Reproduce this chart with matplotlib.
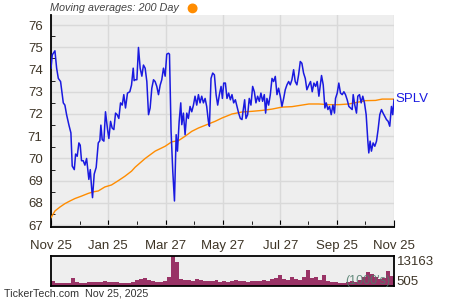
import matplotlib
matplotlib.use("Agg")
import matplotlib.pyplot as plt
from matplotlib.patches import Ellipse
import numpy as np

# SPLV closing prices, days since Nov 25, 2024
price_days = [0, 1.4, 4.2, 6.0, 7.8, 10.2, 13.1, 14.8, 16.6, 19.1, 21.2, 22.6, 24.8, 26.2, 27.9,
              29.7, 31.1, 32.5, 34.3, 36.1, 37.9, 38.9, 40.3, 41.8, 43.2, 44.2, 46.0, 48.1, 50.3,
              52.0, 53.1, 54.5, 56.3, 58.0, 60.2, 61.6, 63.4, 65.1, 66.9, 68.7, 70.4, 72.2, 74.0,
              75.8, 77.5, 79.3, 81.4, 83.9, 85.7, 87.5, 88.5,
              89.6, 91.4, 93.1, 94.9, 96.7, 98.4, 100.2, 102.0, 103.8, 105.5, 107.3, 109.1, 110.8,
              112.6, 114.4, 116.2, 117.9, 119.7, 121.5, 123.2, 125.0, 126.1, 127.8, 129.6, 131.4,
              133.2, 134.6, 136.4, 138.1, 139.2, 140.9, 142.7, 144.5, 146.2, 148.0, 149.8, 151.6,
              153.3, 155.1, 156.9, 158.6, 160.4, 162.2, 164.0, 165.7, 167.5, 168.6, 170.3, 172.1,
              173.9, 175.7, 177.4, 179.2, 181.0, 182.4,
              183.8, 185.6, 187.3, 189.1, 190.9, 192.6, 194.4, 196.2, 198.0, 199.7, 201.5, 203.3,
              204.3, 206.1, 207.5, 209.3, 211.0, 212.8, 214.6, 216.4, 218.1, 219.9, 221.7, 223.4,
              225.2, 227.0, 228.4, 229.8, 231.6, 233.4, 235.2, 236.9, 238.7, 240.5, 242.2, 244.0,
              245.8, 247.6, 249.3, 251.1, 252.9, 254.6, 256.4, 258.2, 259.9, 261.7, 263.5, 265.3,
              267.0, 268.8, 270.6, 272.3,
              274.5, 276.2, 278.0, 279.8, 281.6, 283.3, 285.1, 286.9, 287.9, 289.7, 291.5, 292.9,
              294.7, 296.4, 298.2, 300.0, 301.7, 302.8, 304.6, 306.3, 308.1, 309.9, 311.7, 313.4,
              315.2, 317.0, 318.7, 320.5, 321.6, 323.3, 325.1, 326.5, 328.3, 330.1, 331.8, 333.6,
              335.4, 337.2, 338.2, 339.6, 341.0, 342.8, 344.6, 346.4, 348.1, 349.9, 351.7, 353.4,
              355.2, 357.0, 358.8, 360.5, 362.3, 363.7, 365.0]
prices = [74.06, 74.66, 74.84, 74.06, 73.6, 73.46, 72.5, 72.4, 71.97, 71.5, 71.15, 69.66, 69.5, 70.2, 70.1,
          70.7, 70.6, 69.9, 69.9, 69.7, 70.0, 69.6, 69.06, 69.5, 68.7, 68.24, 69.3, 69.6, 70.7,
          70.8, 71.5, 70.85, 70.78, 72.1, 71.3, 70.9, 71.67, 71.37, 71.3, 72.04, 71.97, 71.8, 72.5,
          72.4, 72.87, 72.27, 72.94, 73.0, 73.3, 74.06, 73.5,
          73.54, 73.54, 74.99, 74.06, 73.7, 74.2, 74.06, 73.46, 71.97, 72.27, 73.16, 73.54, 73.46,
          73.24, 72.87, 73.3, 73.54, 74.06, 73.7, 74.69, 74.73, 74.69, 71.22, 69.43, 68.09,
          71.07, 70.33, 71.67, 72.5, 71.52, 72.04, 71.07, 72.04, 71.8, 72.34, 72.1, 72.4,
          72.8, 72.4, 72.87, 72.5, 72.8, 72.5, 72.7, 72.34, 71.67, 71.45, 73.6, 73.84,
          73.76, 72.87, 72.4, 72.87, 73.24, 72.7,
          73.39, 73.39, 72.7, 72.94, 72.64, 72.87, 72.5, 72.64, 72.34, 72.04, 71.8, 71.75,
          72.1, 72.64, 71.8, 71.97, 72.7, 72.4, 73.24, 73.0, 72.5, 72.8, 72.57, 72.94,
          72.57, 72.87, 72.04, 72.7, 72.4, 72.87, 73.6, 73.46, 73.69, 72.87, 73.16, 72.8,
          72.34, 72.7, 73.09, 73.31, 73.46, 73.31, 73.54, 73.99, 73.46, 73.31, 73.76, 74.36,
          74.28, 73.84, 73.6, 73.09,
          73.31, 73.46, 73.0, 73.39, 73.24, 73.46, 72.8, 73.39, 73.73, 73.31, 72.27, 72.5,
          72.2, 72.34, 71.97, 72.4, 72.04, 72.7, 72.94, 73.39, 72.94, 72.87, 73.0, 72.87,
          72.64, 72.34, 72.27, 72.2, 72.87, 72.4, 72.04, 72.8, 72.87, 72.5, 72.8, 72.5,
          71.97, 70.78, 70.25, 70.78, 70.33, 70.7, 70.55, 70.78, 71.3, 71.97, 72.2, 72.04,
          71.9, 71.75, 71.67, 71.45, 72.34, 71.97, 72.64]

# 200 day moving average
ma_days = [0, 4.2, 9.6, 14.8, 20.2, 25.5, 32.5, 39.6, 44.9, 50.3, 57.3, 64.4, 71.5, 78.6, 85.7,
           89.6, 100.2, 110.8, 121.5, 128.5, 135.6, 142.7, 149.8, 156.9, 167.5, 174.6,
           182.0, 192.6, 203.3, 213.9, 224.5, 235.2, 245.8, 256.4, 267.0,
           274.5, 285.1, 295.7, 306.3, 317.0, 327.6, 334.7, 345.3, 352.4, 365.0]
ma200 = [67.34, 67.64, 67.82, 67.97, 68.09, 68.2, 68.31, 68.43, 68.5, 68.54, 68.72, 68.81, 69.0, 69.2, 69.43,
         69.61, 70.0, 70.33, 70.55, 70.75, 70.8, 71.0, 71.22, 71.37, 71.55, 71.67,
         71.82, 72.0, 72.09, 72.12, 72.16, 72.22, 72.31, 72.33, 72.4,
         72.45, 72.45, 72.42, 72.42, 72.45, 72.54, 72.6, 72.61, 72.67, 72.67]

# volume in thousands, consecutive periods across the year
volume = [2250, 1520, 1380, 1520, 1670, 3700, 1960, 1520, 1520, 1820, 1960, 2100, 1820, 2400, 1820,
          1820, 2100, 1670, 1670, 1520, 1960, 2830, 3410, 3700, 2690, 2250, 2100, 1960, 2540,
          4140, 13163, 10700, 3410, 2690, 2690, 2400, 3120, 2690, 2250, 2540, 2250, 2690, 2100,
          2250, 1960, 2250, 2690, 2250, 2540, 1960, 2250, 2250, 2540, 2690, 2400, 3120, 3700,
          4870, 3120, 2690, 4140, 3410, 2690, 4140, 7050, 3700, 4140, 2690, 4870, 2250, 1960,
          1960, 1670, 1670, 1960, 2250, 1960, 2690, 4140, 6300, 5600, 4140, 3410, 3700, 6600, 4580]

tick_days = [0, 61, 122, 183, 244, 304, 365]
tick_labels = ["Nov 25", "Jan 25", "Mar 27", "May 27", "Jul 27", "Sep 25", "Nov 25"]

plt.rcParams['font.family'] = ['Liberation Sans', 'DejaVu Sans']
txt = "#3d3426"
bg = "#eeeeee"

fig = plt.figure(figsize=(4.5, 3), dpi=100)
ax = fig.add_axes([0.1133, 0.2433, 0.7622, 0.7067])
ax.set_facecolor(bg)
ax.plot(ma_days, ma200, color="#ff8c00", lw=1.0, zorder=3)
ax.plot(price_days, prices, color="#1a1ae0", lw=1.1, zorder=4)
ax.set_xlim(0, 365)
ax.set_ylim(66.92, 76.45)
ax.set_yticks(np.arange(67, 77))
ax.set_yticks(np.arange(67.5, 76.5, 1), minor=True)
ax.set_xticks(tick_days)
ax.set_xticklabels(tick_labels)
ax.set_xticks([(a + b) / 2 for a, b in zip(tick_days[:-1], tick_days[1:])], minor=True)
ax.grid(True, which="major", color="#d9d9d9", lw=1.0)
ax.set_axisbelow(True)
for s in ["top", "right"]:
    ax.spines[s].set_visible(False)
for s in ["left", "bottom"]:
    ax.spines[s].set_linewidth(1.3)
ax.tick_params(axis="both", which="both", direction="in", colors="black", labelcolor=txt, labelsize=9.5)
ax.tick_params(axis="x", which="major", length=5, pad=9)
ax.tick_params(axis="x", which="minor", length=4)
ax.tick_params(axis="y", which="major", length=0, pad=6)
ax.tick_params(axis="y", which="minor", length=3)

ax.text(ma_days[-1] + 2, ma200[-1], "SPLV", color="#1a1ae0", fontsize=9.5, va="center", ha="left",
        clip_on=False)
fig.text(0.112, 0.972, "Moving averages: 200 Day", fontsize=7.8, style="italic", color="#444444",
         va="center", ha="left")
fig.add_artist(Ellipse((0.428, 0.972), 0.019, 0.028, transform=fig.transFigure, color="#ff8c00"))

# volume panel
axv = fig.add_axes([0.1133, 0.0483, 0.7622, 0.0984])
axv.set_facecolor(bg)
edges = np.linspace(0, 365, len(volume) + 1)
axv.bar(edges[:-1], volume, width=np.diff(edges), align="edge", color="#993366", lw=0)
axv.set_xlim(0, 365)
axv.set_ylim(505, 13163)
axv.set_xticks([])
axv.set_yticks([])
for s in axv.spines.values():
    s.set_linewidth(1.3)
axv.text(1.008, 0.8, f"{max(volume)}", transform=axv.transAxes, fontsize=9.5, color=txt,
         va="center", ha="left")
axv.text(1.008, 0.12, "505", transform=axv.transAxes, fontsize=9.5, color=txt,
         va="center", ha="left")
axv.text(0.99, 0.15, "(1000's)", transform=axv.transAxes, fontsize=9, color="#4d7a6a",
         va="center", ha="right", alpha=0.85)

fig.text(0.01, 0.02, "TickerTech.com  Nov 25, 2025", fontsize=7.7, color="#333333",
         va="center", ha="left")

fig.savefig("out.png", dpi=100)
